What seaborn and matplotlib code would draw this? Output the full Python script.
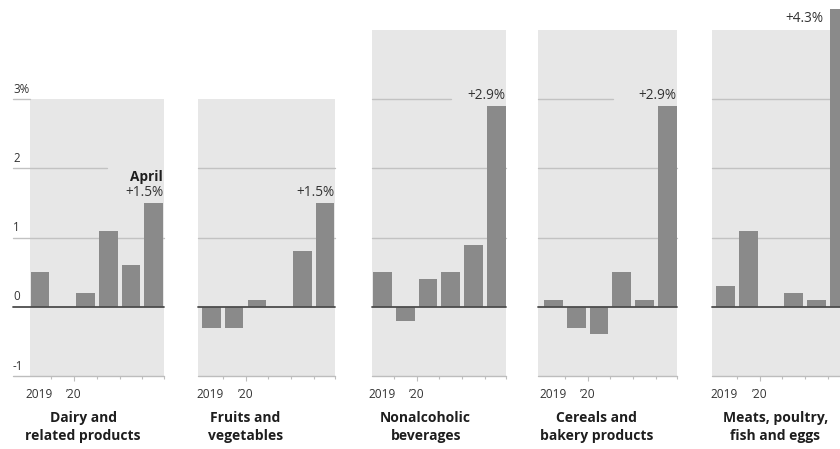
import matplotlib
matplotlib.use("Agg")
import matplotlib.pyplot as plt
import matplotlib.transforms as mtransforms
from matplotlib.ticker import FixedLocator
import pandas as pd
import seaborn as sns

# ---- data: monthly change in consumer prices, %, Nov 2019 – Apr 2020 ----
months = ["Nov", "Dec", "Jan", "Feb", "Mar", "Apr"]
titles = [
    "Dairy and\nrelated products",
    "Fruits and\nvegetables",
    "Nonalcoholic\nbeverages",
    "Cereals and\nbakery products",
    "Meats, poultry,\nfish and eggs",
]
dairy = [0.5, 0.0, 0.2, 1.1, 0.6, 1.5]
fruits = [-0.3, -0.3, 0.1, 0.0, 0.8, 1.5]
beverages = [0.5, -0.2, 0.4, 0.5, 0.9, 2.9]
cereals = [0.1, -0.3, -0.4, 0.5, 0.1, 2.9]
meats = [0.3, 1.1, 0.0, 0.2, 0.1, 4.3]
series = [dairy, fruits, beverages, cereals, meats]

y_ticks = [-1, 0, 1, 2, 3]
y_tick_labels = ["-1", "0", "1", "2", "3%"]
year_labels = ["2019", "\u201920"]
last_month_label = "April"

# ---- styling ----
BG = "#e7e7e7"
GRID = "#c2c2c2"
BAR = "#8a8a8a"
BASE = "#4d4d4d"
AXIS = "#bdbdbd"
TEXT = "#333333"
TITLE = "#1e1e1e"

sns.set_theme(style="white")
plt.rcParams["font.family"] = ["Open Sans", "DejaVu Sans"]

W, H = 840, 449
PITCH = 22.75                      # pixels per bar slot
panel_left_px = [30, 197.5, 372, 538, 712]
pad_left = [0.44, 0.61, 0.46, 0.68, 0.59]
x_right = 5.45
bg_top = [3, 3, 4, 4, 4]
title_x = [1.9, 1.5, 1.9, 1.9, 2.2]
# gridline extents (axes fraction) per panel: level -> (xmin, xmax)
grid_spans = [
    {1: (-0.127, 1), 2: (-0.127, 0.575), 3: (-0.127, 0)},
    {1: (0, 1), 2: (0, 1)},
    {1: (0, 1), 2: (0, 1), 3: (0, 0.587)},
    {1: (0, 1), 2: (0, 1), 3: (0, 0.54)},
    {1: (0, 1), 2: (0, 1), 3: (0, 1)},
]
YMIN, YMAX = -1, 4.433
ax_bottom_px = 73
ax_height_px = 376

fig = plt.figure(figsize=(W / 100, H / 100), dpi=100, facecolor="white")

for i, values in enumerate(series):
    width_px = (x_right + pad_left[i]) * PITCH
    ax = fig.add_axes([panel_left_px[i] / W, ax_bottom_px / H,
                       width_px / W, ax_height_px / H])
    ax.set_facecolor("none")

    df = pd.DataFrame({"month": months, "change": values})
    sns.barplot(data=df, x="month", y="change", order=months, color=BAR,
                width=0.82, saturation=1, linewidth=0, errorbar=None,
                ax=ax, zorder=3)

    ax.set_xlim(-pad_left[i], x_right)
    ax.set_ylim(YMIN, YMAX)
    for s in ax.spines.values():
        s.set_visible(False)
    ax.set_xlabel("")
    ax.set_ylabel("")
    ax.set_yticks([])

    # shaded panel
    ax.axhspan(YMIN, bg_top[i], color=BG, lw=0, zorder=0)

    left_edge = -0.127 if i == 0 else 0
    for level, (x0, x1) in grid_spans[i].items():
        if x1 > x0:
            ax.axhline(level, x0, x1, color=GRID, lw=1.0, zorder=1,
                       clip_on=False)
    ax.axhline(0, left_edge, 1, color=BASE, lw=1.3, zorder=4, clip_on=False)
    ax.axhline(YMIN, left_edge, 1, color=AXIS, lw=1.0, zorder=4,
               clip_on=False)

    # bottom ticks at month boundaries; January gets a longer tick
    ax.xaxis.set_major_locator(FixedLocator([1.5]))
    ax.xaxis.set_minor_locator(FixedLocator([0.5, 2.5, 3.5, 4.5, x_right]))
    ax.tick_params(axis="x", which="major", direction="out", length=3.8,
                   width=0.8, color=AXIS, labelbottom=False, bottom=True)
    ax.tick_params(axis="x", which="minor", direction="out", length=2.4,
                   width=0.8, color=AXIS, bottom=True)

    ax.annotate(year_labels[0], xy=(0.5, YMIN), xytext=(1, -13),
                textcoords="offset points", ha="right", va="center",
                fontsize=8.6, color=TEXT, annotation_clip=False)
    ax.annotate(year_labels[1], xy=(1.5, YMIN), xytext=(0, -13),
                textcoords="offset points", ha="center", va="center",
                fontsize=8.6, color=TEXT, annotation_clip=False)

    # label on the latest month
    last = values[-1]
    label = f"+{last:.1f}%"
    if last > bg_top[i]:
        ax.annotate(label, xy=(5 - 0.41, last), xytext=(-5, -7),
                    textcoords="offset points", ha="right", va="center",
                    fontsize=9.8, color=TEXT, annotation_clip=False)
    else:
        ax.annotate(label, xy=(5 + 0.41, last), xytext=(0, 2),
                    textcoords="offset points", ha="right", va="bottom",
                    fontsize=9.8, color=TEXT, annotation_clip=False)
        if i == 0:
            ax.annotate(last_month_label, xy=(5 + 0.41, last),
                        xytext=(0, 13.5), textcoords="offset points",
                        ha="right", va="bottom", fontsize=9.8,
                        fontweight="bold", color=TITLE,
                        annotation_clip=False)

    # y labels on the first panel only
    if i == 0:
        trans = mtransforms.blended_transform_factory(ax.transAxes,
                                                      ax.transData)
        for v, lab in zip(y_ticks, y_tick_labels):
            ax.annotate(lab, xy=(-0.127, v), xycoords=trans, xytext=(0, 2.5),
                        textcoords="offset points", ha="left", va="bottom",
                        fontsize=8.3, color=TEXT, annotation_clip=False)

    ttrans = mtransforms.blended_transform_factory(ax.transData,
                                                   fig.transFigure)
    ax.text(title_x[i], 1 - 427 / H, titles[i], transform=ttrans,
            ha="center", va="center", fontsize=10, fontweight="bold",
            linespacing=1.42, color=TITLE)

fig.savefig("out.png", dpi=100, facecolor="white")
